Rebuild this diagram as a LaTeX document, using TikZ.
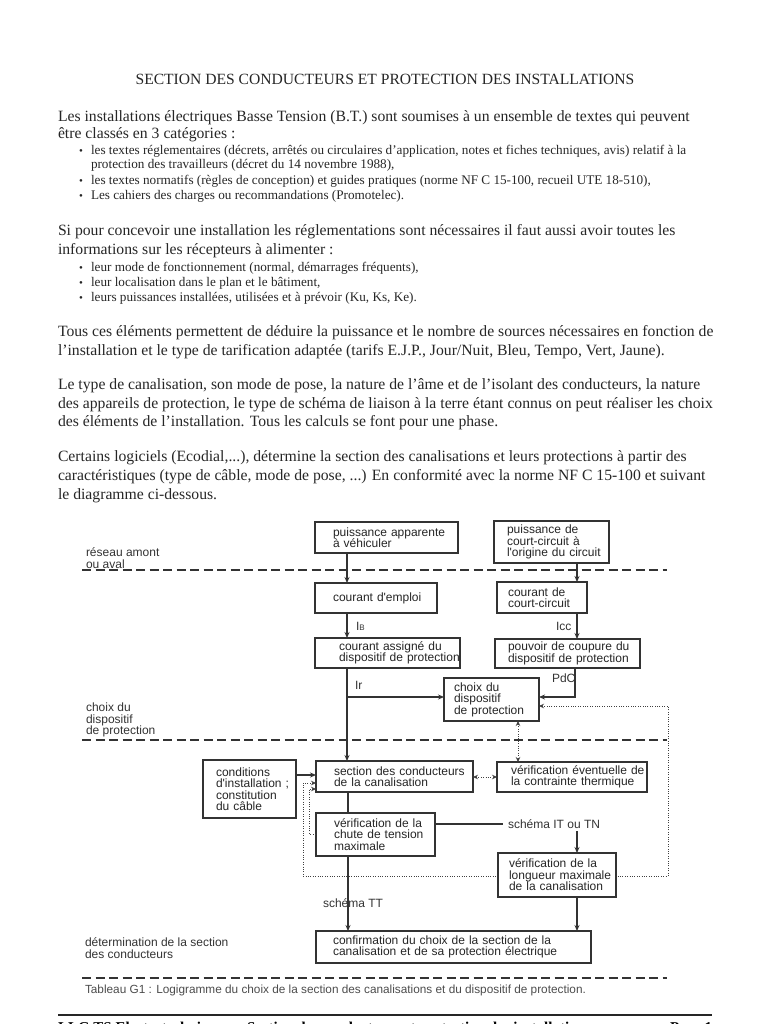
\documentclass[tikz,border=0pt]{standalone}
\usepackage{fontspec}
\setmainfont{Liberation Serif}
\newfontfamily\arial{Liberation Sans}
\usetikzlibrary{arrows.meta,backgrounds}
\begin{document}
\begin{tikzpicture}[x=1pt,y=-1pt,
  every node/.style={inner sep=0pt, outer sep=0pt},
  ttl/.style={anchor=base, font=\fontsize{15.6}{18}\selectfont, text=black!85},
  para/.style={anchor=base west, font=\fontsize{15.7}{18}\selectfont, text=black!85},
  bul/.style={anchor=base west, font=\fontsize{13.2}{15}\selectfont, text=black!85},
  bdot/.style={anchor=base west, font=\fontsize{11}{12}\selectfont, text=black!85},
  bx/.style={draw=black!80, fill=white, line width=1.1pt, anchor=north west, align=left,
    font=\arial\fontsize{12}{11.5}\selectfont, text=black!85,
    execute at begin node={\rightskip=0pt plus 1fil minus 80pt\relax}},
  lbl/.style={anchor=west, align=left, font=\arial\fontsize{12}{11.5}\selectfont, text=black!80},
  conn/.style={draw=black!80, line width=1.1pt},
  arr/.style={conn, -{Stealth[length=6pt,width=5pt]}},
  dot/.style={draw=black!75, line width=0.9pt, dash pattern=on 1pt off 1.4pt},
  dotarr/.style={dot, -{Stealth[length=5pt,width=4.5pt]}},
  dotdbl/.style={dot, {Stealth[length=5pt,width=4.5pt]}-{Stealth[length=5pt,width=4.5pt]}},
  sep/.style={draw=black!80, line width=1.6pt, dash pattern=on 9pt off 4.5pt},
]
\useasboundingbox (0,0) rectangle (768,1024);

% ---------- text part ----------
\node[ttl] (title) at (385,85) {SECTION DES CONDUCTEURS ET PROTECTION DES INSTALLATIONS};

\node[para] (p1a) at (58,122) {Les installations électriques Basse Tension (B.T.) sont soumises à un ensemble de textes qui peuvent};
\node[para] (p1b) at (58,139) {être classés en 3 catégories :};
\node[bdot] (b1d) at (79,155) {•};
\node[bul] (b1a) at (91,155) {les textes réglementaires (décrets, arrêtés ou circulaires d'application, notes et fiches techniques, avis) relatif à la};
\node[bul] (b1b) at (91,169) {protection des travailleurs (décret du 14 novembre 1988),};
\node[bdot] (b2d) at (79,185) {•};
\node[bul] (b2a) at (91,185) {les textes normatifs (règles de conception) et guides pratiques (norme NF C 15-100, recueil UTE 18-510),};
\node[bdot] (b3d) at (79,200) {•};
\node[bul] (b3a) at (91,200) {Les cahiers des charges ou recommandations (Promotelec).};

\node[para] (p2a) at (58,236) {Si pour concevoir une installation les réglementations sont nécessaires il faut aussi avoir toutes les};
\node[para] (p2b) at (58,254) {informations sur les récepteurs à alimenter :};
\node[bdot] (b4d) at (79,271) {•};
\node[bul] (b4a) at (91,271) {leur mode de fonctionnement (normal, démarrages fréquents),};
\node[bdot] (b5d) at (79,286) {•};
\node[bul] (b5a) at (91,286) {leur localisation dans le plan et le bâtiment,};
\node[bdot] (b6d) at (79,301) {•};
\node[bul] (b6a) at (91,301) {leurs puissances installées, utilisées et à prévoir (Ku, Ks, Ke).};

\node[para] (p3a) at (58,336) {Tous ces éléments permettent de déduire la puissance et le nombre de sources nécessaires en fonction de};
\node[para] (p3b) at (58,355) {l'installation et le type de tarification adaptée (tarifs E.J.P., Jour/Nuit, Bleu, Tempo, Vert, Jaune).};

\node[para] (p4a) at (58,389) {Le type de canalisation, son mode de pose, la nature de l’âme et de l’isolant des conducteurs, la nature};
\node[para] (p4b) at (58,408) {des appareils de protection, le type de schéma de liaison à la terre étant connus on peut réaliser les choix};
\node[para] (p4c) at (58,426) {des éléments de l’installation. Tous les calculs se font pour une phase.};

\node[para] (p5a) at (58,461) {Certains logiciels (Ecodial,...), détermine la section des canalisations et leurs protections à partir des};
\node[para] (p5b) at (58,480) {caractéristiques (type de câble, mode de pose, ...) En conformité avec la norme NF C 15-100 et suivant};
\node[para] (p5c) at (58,499) {le diagramme ci-dessous.};

% ---------- diagram ----------
\draw[sep] (82,570) -- (667,570);
\draw[sep] (82,740) -- (667,740);
\draw[sep] (82,978) -- (667,978);

\node[lbl] (z1) at (86,558) {réseau amont\\ou aval};
\node[lbl] (z2) at (86,720) {choix du\\dispositif\\de protection};
\node[lbl] (z3) at (85,948) {détermination de la section\\des conducteurs};

\node[bx, minimum width=143pt, minimum height=31pt, text width=107pt] (A) at (315,522) {puissance apparente\\à véhiculer};
\node[bx, minimum width=122pt, minimum height=30pt, text width=86pt] (B) at (315,583) {courant d'emploi};
\node[bx, minimum width=145pt, minimum height=30pt, text width=97pt] (C) at (315,638) {courant assigné du\\dispositif de protection};
\node[bx, minimum width=115pt, minimum height=42pt, text width=89pt] (D) at (494,521) {puissance de\\court-circuit à\\l'origine du circuit};
\node[bx, minimum width=90pt, minimum height=31pt, text width=68pt] (E) at (497,582) {courant de\\court-circuit};
\node[bx, minimum width=145pt, minimum height=29pt, text width=119pt] (F) at (495,639) {pouvoir de coupure du\\dispositif de protection};
\node[bx, minimum width=95pt, minimum height=43pt, text width=75pt] (G) at (444,678) {choix du\\dispositif\\de protection};
\node[bx, minimum width=157pt, minimum height=31pt, text width=121pt] (H) at (316,761) {section des conducteurs\\de la canalisation};
\node[bx, minimum width=150pt, minimum height=30pt, text width=122pt] (I) at (497,762) {vérification éventuelle de\\la contrainte thermique};
\node[bx, minimum width=93pt, minimum height=58pt, text width=67pt] (J) at (203,760) {conditions\\d'installation ;\\constitution\\du câble};
\node[bx, minimum width=119pt, minimum height=43pt, text width=83pt] (K) at (316,813) {vérification de la\\chute de tension\\maximale};
\node[bx, minimum width=118pt, minimum height=44pt, text width=96pt] (L) at (498,853) {vérification de la\\longueur maximale\\de la canalisation};
\node[bx, minimum width=275pt, minimum height=32pt, text width=241pt] (M) at (316,931) {confirmation du choix de la section de la\\canalisation et de sa protection électrique};

% connectors
\draw[arr] (A.south -| 347,0) -- (B.north -| 347,0);
\draw[arr] (B.south -| 347,0) -- (C.north -| 347,0);
\node[lbl] (lIB) at (356,626) {I{\fontsize{8}{8}\selectfont B}};
\draw[arr] (C.south -| 347,0) -- (H.north -| 347,0);
\node[lbl] (lIr) at (355,685) {Ir};
\coordinate (irj) at (347,697);
\draw[arr] (irj) -- (irj -| G.west);

\draw[arr] (D.south -| 577,0) -- (E.north -| 577,0);
\draw[arr] (E.south -| 577,0) -- (F.north -| 577,0);
\node[lbl] (lIcc) at (556,626) {Icc};
\coordinate (pdc) at (575,697);
\draw[arr] (F.south -| pdc) -- (pdc) -- (pdc -| G.east);
\node[lbl] (lPdC) at (552,678) {PdC};

\draw[dotdbl] (G.south -| 518,0) -- (I.north -| 518,0);
\draw[dotdbl] (H.east |- 0,777) -- (I.west |- 0,777);
\draw[arr] (J.east |- 0,775) -- (H.west |- 0,775);

\coordinate (lp1) at (303,876);
\coordinate (lp2) at (668,876);
\coordinate (lp3) at (668,706);
\begin{pgfonlayer}{background}
\draw[dotdbl] (H.west |- 0,783) -- (303,783) -- (lp1) -- (lp2) -- (lp3) -- (lp3 -| G.east);
\end{pgfonlayer}
\coordinate (lq) at (309,834);
\draw[dotarr] (K.west |- lq) -- (lq) -- (309,789) -- (H.west |- 0,789);

\draw[conn] (H.south -| 348,0) -- (K.north -| 348,0);
\coordinate (it) at (503,824);
\draw[conn] (K.east |- it) -- (it);
\node[lbl] (lIT) at (508,824) {schéma IT ou TN};
\draw[arr] (577,831) -- (L.north -| 577,0);
\draw[arr] (K.south -| 348,0) -- (M.north -| 348,0);
\node[lbl] (lTT) at (323,903) {schéma TT};
\draw[arr] (L.south -| 577,0) -- (M.north -| 577,0);

\node[anchor=west, font=\arial\fontsize{11.8}{13}\selectfont, text=black!70] (cap) at (85,990) {Tableau G1 : Logigramme du choix de la section des canalisations et du dispositif de protection.};

% footer
\draw[line width=1.5pt, black!85] (58,1015) -- (712,1015);
\node[anchor=base west, font=\bfseries\fontsize{15}{18}\selectfont] (f1) at (58,1032) {LLG TS Electrotechnique};
\node[anchor=base west, font=\bfseries\fontsize{15}{18}\selectfont] (f2) at (247,1032) {Section des conducteurs et protection des installations};
\node[anchor=base west, font=\bfseries\fontsize{15}{18}\selectfont] (f3) at (670,1032) {Page 1};
\end{tikzpicture}
\end{document}
